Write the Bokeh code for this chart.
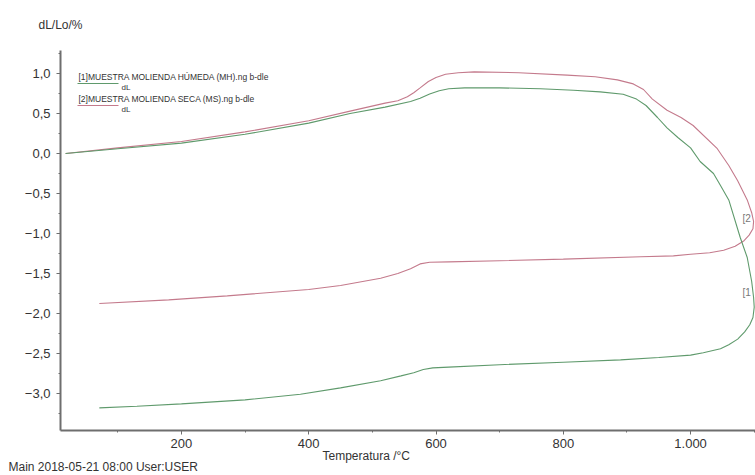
from bokeh.plotting import figure
from bokeh.models import FixedTicker, CustomJSTickFormatter, Label, Range1d, Title
from bokeh.embed import file_html
from bokeh.resources import INLINE

# ---- data ----
# [1] MUESTRA MOLIENDA HÚMEDA (MH): heating then cooling path
temp_mh = [18, 100, 200, 300, 400, 465, 520, 560, 575, 590, 605, 620, 645, 700, 764, 816, 858, 894,
           915, 930, 948, 963, 980, 1000, 1015, 1036, 1047, 1060, 1078, 1089, 1096, 1099, 1100,
           1098, 1093, 1085, 1074, 1060, 1047, 1020, 1000, 950, 890, 800, 700, 620, 595, 580, 565,
           545, 513, 450, 387, 300, 200, 130, 71]
dl_mh = [0.0, 0.06, 0.13, 0.24, 0.38, 0.50, 0.58, 0.65, 0.69, 0.745, 0.785, 0.81, 0.82, 0.82, 0.81, 0.79, 0.77, 0.74,
         0.68, 0.60, 0.45, 0.32, 0.20, 0.07, -0.10, -0.25, -0.40, -0.58, -1.05, -1.30, -1.60, -1.80, -1.92,
         -2.05, -2.14, -2.23, -2.32, -2.39, -2.44, -2.49, -2.52, -2.55, -2.58, -2.61, -2.64, -2.67, -2.68, -2.70, -2.74,
         -2.78, -2.84, -2.93, -3.01, -3.08, -3.13, -3.16, -3.18]

# [2] MUESTRA MOLIENDA SECA (MS): heating then cooling path
temp_ms = [18, 100, 200, 300, 400, 465, 520, 540, 555, 565, 575, 588, 600, 615, 635, 660, 730, 806, 850, 885,
           910, 926, 940, 963, 985, 1004, 1042, 1060, 1074, 1089, 1096, 1099, 1098, 1092, 1084, 1070, 1052,
           1030, 1000, 973, 922, 800, 700, 620, 590, 575, 560, 540, 513, 450, 400, 272, 180, 71]
dl_ms = [0.0, 0.07, 0.15, 0.27, 0.41, 0.53, 0.63, 0.66, 0.71, 0.76, 0.82, 0.90, 0.95, 0.99, 1.01, 1.02, 1.01, 0.98, 0.96, 0.92,
         0.87, 0.80, 0.68, 0.54, 0.45, 0.35, 0.06, -0.15, -0.34, -0.58, -0.74, -0.85, -0.94, -1.02, -1.09, -1.16, -1.21,
         -1.24, -1.26, -1.28, -1.29, -1.32, -1.34, -1.355, -1.36, -1.38, -1.44, -1.50, -1.56, -1.65, -1.70, -1.78, -1.83, -1.875]

x_major = [200, 400, 600, 800, 1000]
x_minor = [100, 300, 500, 700, 900, 1100]
y_major = [-3.0, -2.5, -2.0, -1.5, -1.0, -0.5, 0.0, 0.5, 1.0]
y_minor = [-3.25, -2.75, -2.25, -1.75, -1.25, -0.75, -0.25, 0.25, 0.75, 1.25]

label_mh = "[1]MUESTRA MOLIENDA HÚMEDA (MH).ng b-dle"
label_ms = "[2]MUESTRA MOLIENDA SECA (MS).ng b-dle"

RED = "#c47a8c"
GREEN = "#5f9a6c"
AXIS = "#6e6e6e"
TXT = "#333333"
FONT = "Liberation Sans"

X0, X1 = 10, 1102
Y0, Y1 = -3.4625, 1.2875
FL, FR, FT, FB = 60, 755, 50, 430   # frame edges in canvas pixels

p = figure(width=755, height=475, x_range=Range1d(X0, X1), y_range=Range1d(Y0, Y1),
           toolbar_location=None, output_backend="svg",
           min_border_left=FL, min_border_right=0, min_border_top=FT, min_border_bottom=475 - FB)
p.outline_line_color = None
p.xgrid.visible = False
p.ygrid.visible = False

# y-axis unit, top-left (title offset is measured from the frame's left edge)
p.title.text = "dL/Lo/%"
p.title.align = "left"
p.title.offset = 38 - FL
p.title.vertical_align = "top"
p.title.standoff = 34
p.title.text_font = FONT
p.title.text_font_size = "12px"
p.title.text_font_style = "normal"
p.title.text_color = TXT

for ax in (p.xaxis[0], p.yaxis[0]):
    ax.axis_line_color = AXIS
    ax.axis_line_width = 2
    ax.major_tick_line_color = AXIS
    ax.minor_tick_line_color = AXIS
    ax.major_tick_in = 0
    ax.major_tick_out = 4
    ax.minor_tick_in = 0
    ax.minor_tick_out = 2
    ax.major_label_text_font = FONT
    ax.major_label_text_font_size = "13px"
    ax.major_label_text_color = TXT
    ax.major_label_standoff = 6

p.xaxis[0].major_label_standoff = 4
p.xaxis[0].ticker = FixedTicker(ticks=x_major, minor_ticks=x_minor)
p.yaxis[0].ticker = FixedTicker(ticks=y_major, minor_ticks=y_minor)
p.xaxis[0].formatter = CustomJSTickFormatter(code="""
const s = Math.round(tick).toString();
return s.length > 3 ? s.slice(0, -3) + '.' + s.slice(-3) : s;
""")
p.yaxis[0].formatter = CustomJSTickFormatter(code="""
return tick.toFixed(1).replace('.', ',').replace('-', '\u2212');
""")

# texts below the x axis (offsets measured from the frame's left edge)
p.add_layout(Title(text="Temperatura /°C", align="left", offset=322 - FL, standoff=-7,
                   text_font=FONT, text_font_size="12px", text_font_style="normal",
                   text_color=TXT), "below")
p.add_layout(Title(text="Main 2018-05-21 08:00 User:USER", align="left", offset=8 - FL, standoff=-3,
                   text_font=FONT, text_font_size="12px", text_font_style="normal",
                   text_color=TXT), "below")

p.line(temp_ms, dl_ms, line_color=RED, line_width=1.1)
p.line(temp_mh, dl_mh, line_color=GREEN, line_width=1.1)


# canvas-pixel -> data helpers (for annotation placement only)
def xd(px):
    return X0 + (px - FL) * (X1 - X0) / (FR - FL)


def yd(py):
    return Y1 - (py - FT) * (Y1 - Y0) / (FB - FT)


def add_text(px, py, text, size="12px", color=TXT):
    p.add_layout(Label(x=xd(px), y=yd(py), text=text, text_font_size=size,
                       text_color=color, text_font=FONT, text_baseline="alphabetic"))


add_text(78, 76, label_mh, size="8.5px")
add_text(121, 87, "dL", size="8px")
add_text(78, 98, label_ms, size="8.5px")
add_text(121, 109, "dL", size="8px")
add_text(742, 218, "[2", size="10px", color="#777777")
add_text(742, 292, "[1", size="10px", color="#777777")

# legend line samples
p.line([xd(77), xd(118)], [yd(83), yd(83)], line_color=GREEN, line_width=1)
p.line([xd(77), xd(118)], [yd(105), yd(105)], line_color=RED, line_width=1)

open("out.html", "w").write(file_html(p, INLINE))
